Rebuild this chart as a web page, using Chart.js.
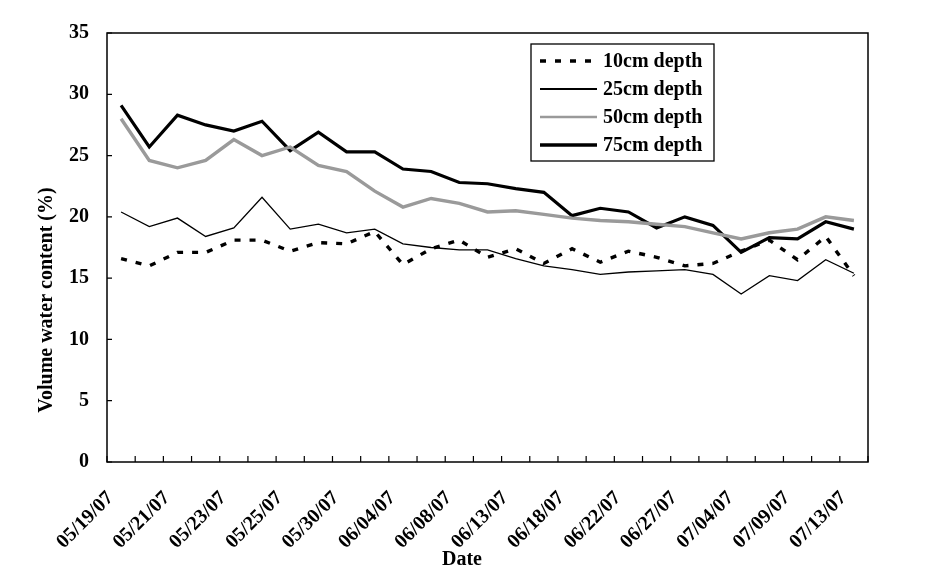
<!DOCTYPE html>
<html>
<head>
<meta charset="utf-8">
<script src="https://cdn.jsdelivr.net/npm/chart.js@4/dist/chart.umd.min.js"></script>
<style>
  html, body { margin: 0; padding: 0; background: #fff; }
  #wrap { width: 946px; height: 584px; position: relative; }
</style>
</head>
<body>
<div id="wrap"><canvas id="c" width="946" height="584"></canvas></div>
<script>
// Categories (27 sampling dates; only every second one is labelled in the original)
const dates = [
  '05/19/07', '', '05/21/07', '', '05/23/07', '', '05/25/07', '', '05/30/07', '',
  '06/04/07', '', '06/08/07', '', '06/13/07', '', '06/18/07', '', '06/22/07', '',
  '06/27/07', '', '07/04/07', '', '07/09/07', '', '07/13/07'
];
const depth10 = [16.6, 16.0, 17.1, 17.1, 18.1, 18.1, 17.2, 17.9, 17.8, 18.8, 16.1, 17.4, 18.1, 16.7, 17.4, 16.2, 17.4, 16.3, 17.2, 16.7, 16.0, 16.2, 17.2, 18.1, 16.5, 18.4, 15.2];
const depth25 = [20.4, 19.2, 19.9, 18.4, 19.1, 21.6, 19.0, 19.4, 18.7, 19.0, 17.8, 17.5, 17.3, 17.3, 16.6, 16.0, 15.7, 15.3, 15.5, 15.6, 15.7, 15.3, 13.7, 15.2, 14.8, 16.5, 15.4];
const depth50 = [28.0, 24.6, 24.0, 24.6, 26.3, 25.0, 25.7, 24.2, 23.7, 22.1, 20.8, 21.5, 21.1, 20.4, 20.5, 20.2, 19.9, 19.7, 19.6, 19.4, 19.2, 18.7, 18.2, 18.7, 19.0, 20.0, 19.7];
const depth75 = [29.1, 25.7, 28.3, 27.5, 27.0, 27.8, 25.4, 26.9, 25.3, 25.3, 23.9, 23.7, 22.8, 22.7, 22.3, 22.0, 20.1, 20.7, 20.4, 19.1, 20.0, 19.3, 17.1, 18.3, 18.2, 19.6, 19.0];
const yTicks = [0, 5, 10, 15, 20, 25, 30, 35];
const seriesNames = ['10cm depth', '25cm depth', '50cm depth', '75cm depth'];
const xTitle = 'Date';
const yTitle = 'Volume water content (%)';

const FONT = "'Liberation Serif', 'Times New Roman', serif";
const BOLD20 = "bold 20px " + FONT;

const frameAndTicks = {
  id: 'frameAndTicks',
  afterDraw(chart) {
    const ctx = chart.ctx;
    const a = chart.chartArea;
    const xs = chart.scales.x, ys = chart.scales.y;
    ctx.save();
    ctx.strokeStyle = '#000';
    ctx.lineWidth = 1.5;
    ctx.strokeRect(a.left, a.top, a.right - a.left, a.bottom - a.top);
    ctx.lineWidth = 1.2;
    ctx.beginPath();
    for (let i = 0; i <= dates.length; i++) {
      const px = xs.getPixelForValue(i - 0.5);
      ctx.moveTo(px, a.bottom);
      ctx.lineTo(px, a.bottom - 6);
    }
    yTicks.forEach(v => {
      const py = ys.getPixelForValue(v);
      ctx.moveTo(a.left, py);
      ctx.lineTo(a.left + 5, py);
    });
    ctx.stroke();
    // axis titles
    ctx.fillStyle = '#000';
    ctx.font = BOLD20;
    ctx.textAlign = 'center';
    ctx.textBaseline = 'middle';
    ctx.fillText(xTitle, a.left + 355, a.bottom + 98);
    ctx.translate(a.left - 60, a.top + 267);
    ctx.rotate(-Math.PI / 2);
    ctx.fillText(yTitle, 0, 0);
    ctx.restore();
  }
};

const boxLegend = {
  id: 'boxLegend',
  afterDraw(chart) {
    const ctx = chart.ctx;
    const a = chart.chartArea;
    const bx = a.left + 424, by = a.top + 11, bw = 183, bh = 117;
    const legendWidths = [3.5, 2.2, 2.6, 3.4];
    ctx.save();
    ctx.fillStyle = '#fff';
    ctx.fillRect(bx, by, bw, bh);
    ctx.strokeStyle = '#000';
    ctx.lineWidth = 1.3;
    ctx.strokeRect(bx, by, bw, bh);
    chart.data.datasets.forEach((ds, i) => {
      const y = by + 17 + i * 28;
      ctx.beginPath();
      ctx.strokeStyle = ds.borderColor;
      ctx.lineWidth = legendWidths[i];
      ctx.setLineDash(ds.borderDash || []);
      ctx.moveTo(bx + 9, y);
      ctx.lineTo(bx + 66, y);
      ctx.stroke();
      ctx.setLineDash([]);
      ctx.fillStyle = '#000';
      ctx.font = BOLD20;
      ctx.textBaseline = 'middle';
      ctx.textAlign = 'left';
      ctx.fillText(seriesNames[i], bx + 72, y + 1);
    });
    ctx.restore();
  }
};

new Chart(document.getElementById('c'), {
  type: 'line',
  data: {
    labels: dates,
    datasets: [
      { label: seriesNames[0], data: depth10, borderColor: '#000', borderWidth: 3.4, borderDash: [6, 9], pointRadius: 0, tension: 0, fill: false },
      { label: seriesNames[1], data: depth25, borderColor: '#000', borderWidth: 1.3, pointRadius: 0, tension: 0, fill: false },
      { label: seriesNames[2], data: depth50, borderColor: '#9a9a9a', borderWidth: 3.4, pointRadius: 0, tension: 0, fill: false },
      { label: seriesNames[3], data: depth75, borderColor: '#000', borderWidth: 3.2, pointRadius: 0, tension: 0, fill: false }
    ]
  },
  options: {
    responsive: false,
    animation: false,
    events: [],
    layout: { padding: { left: 0, top: 33, right: 78, bottom: 0 } },
    plugins: { legend: { display: false }, tooltip: { enabled: false } },
    scales: {
      x: {
        offset: true,
        border: { display: false },
        grid: { display: false, drawTicks: false },
        ticks: {
          autoSkip: false,
          maxRotation: 45,
          minRotation: 45,
          padding: 14,
          color: '#000',
          font: { family: FONT, size: 20, weight: 'bold' },
          callback: (v, i) => dates[i] ? dates[i] + '   ' : ''
        },
        title: { display: false },
        afterFit: s => { s.height = 122; }
      },
      y: {
        min: 0, max: 35,
        border: { display: false },
        grid: { display: false, drawTicks: false },
        afterBuildTicks: s => { s.ticks = yTicks.map(v => ({ value: v })); },
        ticks: {
          padding: 18,
          color: '#000',
          font: { family: FONT, size: 20, weight: 'bold' }
        },
        title: { display: false },
        afterFit: s => { s.width = 107; }
      }
    }
  },
  plugins: [frameAndTicks, boxLegend]
});
</script>
</body>
</html>
